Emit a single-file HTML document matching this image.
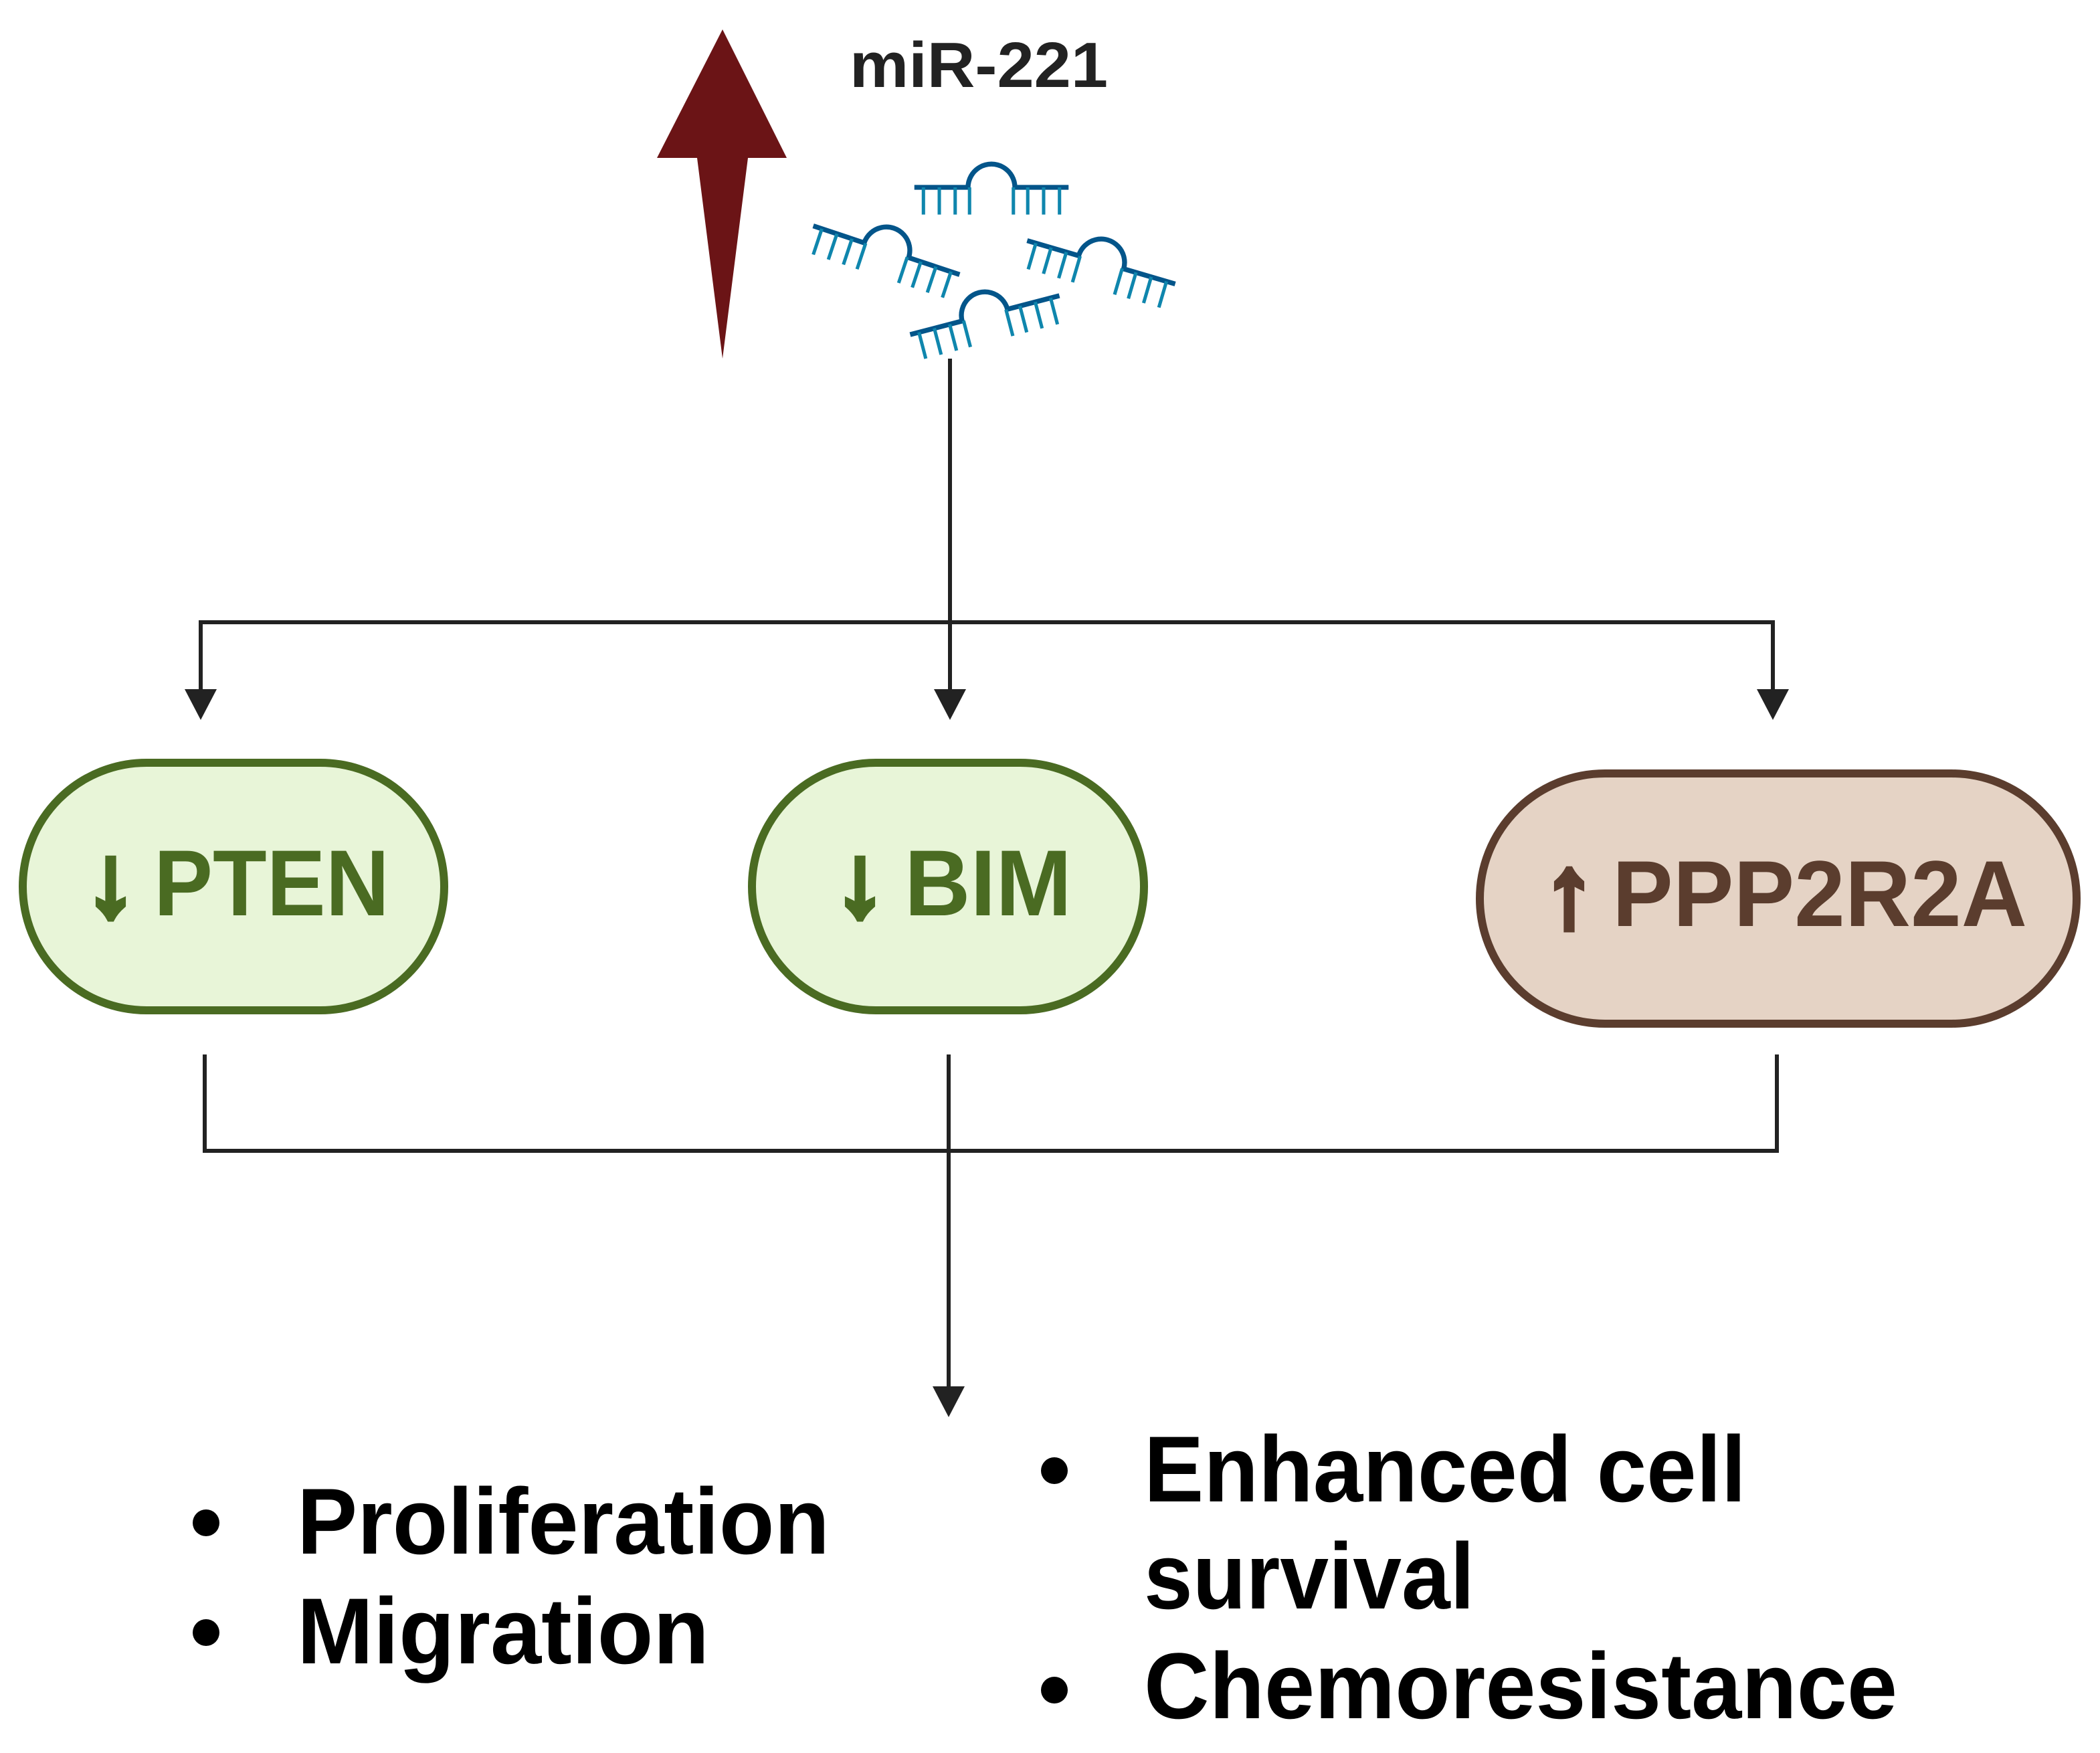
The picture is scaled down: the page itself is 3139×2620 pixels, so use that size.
<!DOCTYPE html>
<html><head><meta charset="utf-8"><style>
html,body{margin:0;padding:0;background:#fff;}
body{width:3139px;height:2615px;overflow:hidden;}
text{font-family:"Liberation Sans",sans-serif;font-weight:bold;}
</style></head><body>
<svg width="3139" height="2615" viewBox="0 0 3139 2615" xmlns="http://www.w3.org/2000/svg">
<defs>
<g id="mir">
<path d="M-102,0 L-31,0 A31,31 0 0 1 -27,-15 A31,31 0 0 1 27,-15 A31,31 0 0 1 31,0 L102,0" fill="none" stroke="#03558a" stroke-width="6.5"/>
<g stroke="#0f86ad" stroke-width="4.5">
<line x1="-90" y1="0" x2="-90" y2="36"/><line x1="-69" y1="0" x2="-69" y2="36"/><line x1="-48" y1="0" x2="-48" y2="36"/><line x1="-29" y1="0" x2="-29" y2="36"/>
<line x1="29" y1="0" x2="29" y2="36"/><line x1="48" y1="0" x2="48" y2="36"/><line x1="69" y1="0" x2="69" y2="36"/><line x1="90" y1="0" x2="90" y2="36"/>
</g>
</g>
</defs>
<path d="M1080,44 L1176,236 L1118,236 L1080,536 L1042,236 L982,236 Z" fill="#6b1416"/>
<text x="1270" y="130" font-size="96" fill="#222" textLength="386" lengthAdjust="spacingAndGlyphs">miR-221</text>
<use href="#mir" transform="translate(1482,280) scale(1.13)"/>
<use href="#mir" transform="translate(1325,374) rotate(18.4) scale(1.13)"/>
<use href="#mir" transform="translate(1646,392) rotate(16.3) scale(1.13)"/>
<use href="#mir" transform="translate(1472,471) rotate(-14.6) scale(1.13)"/>
<g stroke="#222" stroke-width="6" fill="none">
<line x1="1420" y1="536" x2="1420" y2="1040"/>
<polyline points="300,1040 300,930 2650,930 2650,1040"/>
<polyline points="306,1576 306,1720 2656,1720 2656,1576"/>
<line x1="1418" y1="1576" x2="1418" y2="2080"/>
</g>
<g fill="#222">
<path d="M276,1030 L324,1030 L300,1076 Z"/>
<path d="M1396,1030 L1444,1030 L1420,1076 Z"/>
<path d="M2626,1030 L2674,1030 L2650,1076 Z"/>
<path d="M1394,2072 L1442,2072 L1418,2118 Z"/>
</g>
<rect x="34" y="1140" width="630" height="370" rx="185" fill="#e8f5d8" stroke="#4a6b22" stroke-width="12"/>
<text x="128" y="1368" font-size="150" fill="#4a6b22" stroke="#4a6b22" stroke-width="10">↓</text>
<text x="230" y="1368" font-size="140" fill="#4a6b22" textLength="352" lengthAdjust="spacingAndGlyphs">PTEN</text>
<rect x="1124" y="1140" width="586" height="370" rx="185" fill="#e8f5d8" stroke="#4a6b22" stroke-width="12"/>
<text x="1248" y="1368" font-size="150" fill="#4a6b22" stroke="#4a6b22" stroke-width="10">↓</text>
<text x="1352" y="1368" font-size="140" fill="#4a6b22" textLength="250" lengthAdjust="spacingAndGlyphs">BIM</text>
<rect x="2212" y="1156" width="892" height="374" rx="187" fill="#e5d3c5" stroke="#5b3d2e" stroke-width="12"/>
<text x="2308" y="1384" font-size="150" fill="#5b3d2e" stroke="#5b3d2e" stroke-width="10">↑</text>
<text x="2410" y="1384" font-size="140" fill="#5b3d2e" textLength="620" lengthAdjust="spacingAndGlyphs">PPP2R2A</text>
<g fill="#000">
<circle cx="308" cy="2276" r="20"/><circle cx="308" cy="2440" r="20"/>
<circle cx="1576" cy="2198" r="20"/><circle cx="1576" cy="2526" r="20"/>
</g>
<g font-size="140" fill="#000">
<text x="444" y="2322" textLength="796" lengthAdjust="spacingAndGlyphs">Proliferation</text>
<text x="444" y="2486" textLength="616" lengthAdjust="spacingAndGlyphs">Migration</text>
<text x="1710" y="2244" textLength="900" lengthAdjust="spacingAndGlyphs">Enhanced cell</text>
<text x="1710" y="2404" textLength="494" lengthAdjust="spacingAndGlyphs">survival</text>
<text x="1710" y="2568" textLength="1126" lengthAdjust="spacingAndGlyphs">Chemoresistance</text>
</g>
</svg>
</body></html>
